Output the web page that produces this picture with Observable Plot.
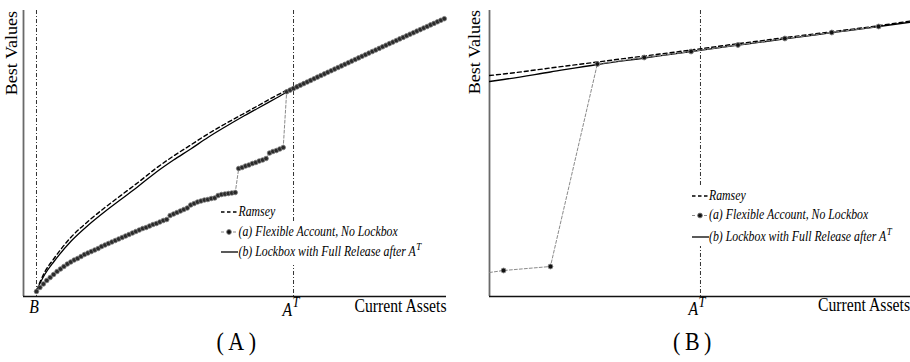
<!DOCTYPE html>
<html><head><meta charset="utf-8">
<script src="https://cdn.jsdelivr.net/npm/d3@7"></script>
<script src="https://cdn.jsdelivr.net/npm/@observablehq/plot@0.6"></script>
<style>
body{margin:0;background:#fff;}
#wrap{display:flex;width:910px;height:362px;overflow:hidden;}
svg{overflow:visible;}
</style></head><body>
<div id="wrap"><div id="pa"></div><div id="pb"></div></div>
<script>
// ---------------- Panel (A) data ----------------
const tickB_A = 0;      // asset level B
const tickAT_A = 75;    // asset level A^T
// (a) Flexible Account, No Lockbox: best value at asset grid 0,1,2,...,119
const flexA = [
  5, 9, 12.5, 16, 19, 22, 25, 27.5, 30, 32.5,
  34.5, 36.5, 38, 40, 42, 43.5, 45, 46.5, 48, 50,
  51.5, 53, 54.5, 56, 57.5, 59, 60.5, 62, 63.5, 65,
  66.5, 68, 69, 70.5, 72, 73, 74.5, 76, 77, 81,
  82.5, 84, 85.5, 87, 88.5, 91.5, 93, 94.5, 95.5, 96.5,
  97, 98, 98.5, 101, 102, 102.5, 103, 103.5, 104, 128,
  129, 130.5, 131.5, 133, 134, 135.5, 136.5, 138, 143.5, 145,
  146, 147.5, 149, 204.7, 206.4, 208, 209.6, 211.3, 212.9, 214.5,
  216.1, 217.8, 219.4, 221, 222.6, 224.2, 225.8, 227.4, 229, 230.6,
  232.2, 233.8, 235.4, 237, 238.6, 240.2, 241.8, 243.4, 245, 246.5,
  248.1, 249.7, 251.3, 252.9, 254.4, 256, 257.6, 259.1, 260.7, 262.3,
  263.8, 265.4, 266.9, 268.5, 270, 271.6, 273.1, 274.7, 276.2, 277.8
];
const lineAssetsA = [0, 2.5, 5, 10, 15, 20, 25, 30, 35, 40, 45, 50, 55, 60, 65, 70, 75, 80, 85, 90, 95, 100, 105, 110, 115, 120];
const ramseyA  = [6, 25, 37.5, 59, 75, 89, 102, 115, 128.5, 140.5, 151.5, 162.5, 172.5, 182, 191.5, 201, 209.5, 217.2, 225, 232.8, 240.7, 248.6, 256.5, 264.4, 271.9, 279.3];
const lockboxA = [6, 22.5, 34.5, 55, 71, 85, 98, 111, 124.5, 136.5, 147.5, 159, 169.5, 179.5, 189, 198.5, 208, 216, 224, 232, 240, 248, 256, 264, 271.5, 279];

// ---------------- Panel (B) data ----------------
const tickAT_B = 4.2;
const lineAssetsB = [-0.3, 0, 1, 2, 3, 4, 5, 6, 7, 8, 8.68];
const ramseyB  = [221, 222.5, 228.5, 234.5, 240.5, 246.5, 252.8, 258.8, 264.8, 270.8, 275.5];
const lockboxB = [215, 217, 224.5, 232, 238.5, 245, 251.3, 257.6, 263.8, 270, 274.3];
const flexAssetsB = [-0.3, 0, 1, 2, 3, 4, 5, 6, 7, 8];
const flexB = [24, 26, 30, 232.5, 239, 245, 251.5, 258, 264, 270];

// ---------------- labels ----------------
const yLabel = "Best Values";
const xLabel = "Current Assets";
const legendLabels = ["Ramsey", "(a) Flexible Account, No Lockbox", "(b) Lockbox with Full Release after A"];
const panelLabels = ["(A)", "(B)"];

// ---------------- tables ----------------
const flexDataA = flexA.map((v, i) => ({a: i, v}));
const lineDataA = lineAssetsA.map((a, i) => ({a, ramsey: ramseyA[i], lockbox: lockboxA[i]}));
const lineDataB = lineAssetsB.map((a, i) => ({a, ramsey: ramseyB[i], lockbox: lockboxB[i]}));
const flexDataB = flexAssetsB.map((a, i) => ({a, v: flexB[i]}));

const SERIF = '"Liberation Serif", "Times New Roman", serif';
const yDom = [0, 286];

function panel(o) {
  return Plot.plot({
    width: o.width, height: 362,
    marginLeft: o.ml, marginRight: o.mr, marginTop: 10, marginBottom: 66,
    x: {domain: o.xDom, axis: null},
    y: {domain: yDom, axis: null},
    style: {background: "#fff", overflow: "visible"},
    marks: [
      Plot.ruleX([o.xDom[0]], {stroke: "#6a6a6a", strokeWidth: 1.8}),
      Plot.ruleY([yDom[0]], {stroke: "#111", strokeWidth: 1.3}),
      Plot.ruleX(o.vlines, {stroke: "#333", strokeWidth: 1, strokeDasharray: "4,2,1,2"}),
      Plot.line(o.lines, {x: "a", y: "ramsey", stroke: "#000", strokeWidth: 1.4, strokeDasharray: "4,3", curve: "monotone-x", clip: true}),
      Plot.line(o.lines, {x: "a", y: "lockbox", stroke: "#000", strokeWidth: 1.3, curve: "monotone-x", clip: true}),
      Plot.line(o.flex, {x: "a", y: "v", stroke: "#8a8a8a", strokeWidth: 1, strokeDasharray: "3,2", clip: true}),
      Plot.dot(o.flex.filter(d => d.a >= 0), {x: "a", y: "v", r: o.r, fill: o.dotFill, stroke: o.dotStroke, strokeWidth: o.dotSW})
    ]
  });
}

function addText(svg, o) {
  const g = d3.select(svg).append("g")
    .attr("transform", `translate(${o.x},${o.y}) scale(${o.sx ?? 1},${o.sy ?? 1.15})` + (o.rotate ? ` rotate(${o.rotate})` : ""));
  const t = g.append("text")
    .attr("text-anchor", o.anchor || "start")
    .style("font-family", SERIF)
    .attr("font-size", o.size || 15.7)
    .attr("font-style", o.italic ? "italic" : "normal")
    .attr("fill", "#000");
  if (o.ls) t.attr("letter-spacing", o.ls);
  t.append("tspan").text(o.text);
  if (o.sup) t.append("tspan").attr("font-size", o.supSize || 12).attr("dy", o.supDy || -7).attr("dx", 0.5).text(o.sup);
  return t;
}

function addLegend(svg, o) {
  const s = d3.select(svg);
  s.append("rect").attr("x", o.box[0]).attr("y", o.box[1]).attr("width", o.box[2] - o.box[0]).attr("height", o.box[3] - o.box[1]).attr("fill", "#fff");
  const [x1, x2] = o.sym;
  const ys = o.rows;
  s.append("line").attr("x1", x1).attr("x2", x2).attr("y1", ys[0]).attr("y2", ys[0]).attr("stroke", "#000").attr("stroke-width", 1.4).attr("stroke-dasharray", "3.5,2.5");
  s.append("line").attr("x1", x1).attr("x2", x2).attr("y1", ys[1]).attr("y2", ys[1]).attr("stroke", "#8a8a8a").attr("stroke-width", 1).attr("stroke-dasharray", "3,3");
  s.append("circle").attr("cx", (x1 + x2) / 2).attr("cy", ys[1]).attr("r", 2.4).attr("fill", "#111").attr("stroke", "#808080").attr("stroke-width", 0.9);
  s.append("line").attr("x1", x1).attr("x2", x2 + 1).attr("y1", ys[2]).attr("y2", ys[2]).attr("stroke", "#000").attr("stroke-width", 1.3);
  const fs = 11.8;
  addText(svg, {x: o.tx, y: ys[0] + 3.6, text: legendLabels[0], italic: true, size: fs});
  addText(svg, {x: o.tx, y: ys[1] + 3.6, text: legendLabels[1], italic: true, size: fs});
  addText(svg, {x: o.tx, y: ys[2] + 4, text: legendLabels[2], italic: true, size: fs, sup: "T", supSize: 9, supDy: -5.5});
}

// ---------- Panel A ----------
const xDomA = [-3.79, 119.64];
const plotA = panel({width: 458, ml: 23, mr: 12, xDom: xDomA, vlines: [tickB_A, tickAT_A],
  lines: lineDataA, flex: flexDataA, r: 2.3, dotFill: "#2a2a2a", dotStroke: "#7a7a7a", dotSW: 0.8});
document.getElementById("pa").appendChild(plotA);
const sxA = plotA.scale("x");
addText(plotA, {x: 17.3, y: 11, text: yLabel, rotate: -90, anchor: "end"});
addText(plotA, {x: 446.5, y: 312, text: xLabel, anchor: "end"});
addText(plotA, {x: sxA.apply(tickB_A) - 2, y: 313, text: "B", italic: true, anchor: "middle"});
addText(plotA, {x: sxA.apply(tickAT_A) - 2, y: 315.5, text: "A", italic: true, anchor: "middle", sup: "T", supSize: 12.5, supDy: -7});
addText(plotA, {x: 238.5, y: 350, text: panelLabels[0], size: 22, anchor: "middle", ls: 4.5});
addLegend(plotA, {box: [219, 222, 425, 265], sym: [221, 237], tx: 238.5, rows: [212, 232, 252]});

// ---------- Panel B ----------
const xDomB = [-0.3, 8.68];
const plotB = panel({width: 452, ml: 31, mr: 0, xDom: xDomB, vlines: [tickAT_B],
  lines: lineDataB, flex: flexDataB, r: 2.4, dotFill: "#111", dotStroke: "#808080", dotSW: 1});
document.getElementById("pb").appendChild(plotB);
const sxB = plotB.scale("x");
addText(plotB, {x: 21.5, y: 10, text: yLabel, rotate: -90, anchor: "end"});
addText(plotB, {x: 452, y: 311, text: xLabel, anchor: "end"});
addText(plotB, {x: sxB.apply(tickAT_B) - 3, y: 315, text: "A", italic: true, anchor: "middle", sup: "T", supSize: 12.5, supDy: -7});
addText(plotB, {x: 236.5, y: 350, text: panelLabels[1], size: 22, anchor: "middle", ls: 4.5});
addLegend(plotB, {box: [231, 186, 425, 246], sym: [234, 250], tx: 251, rows: [196, 215.5, 237]});
</script>
</body></html>
